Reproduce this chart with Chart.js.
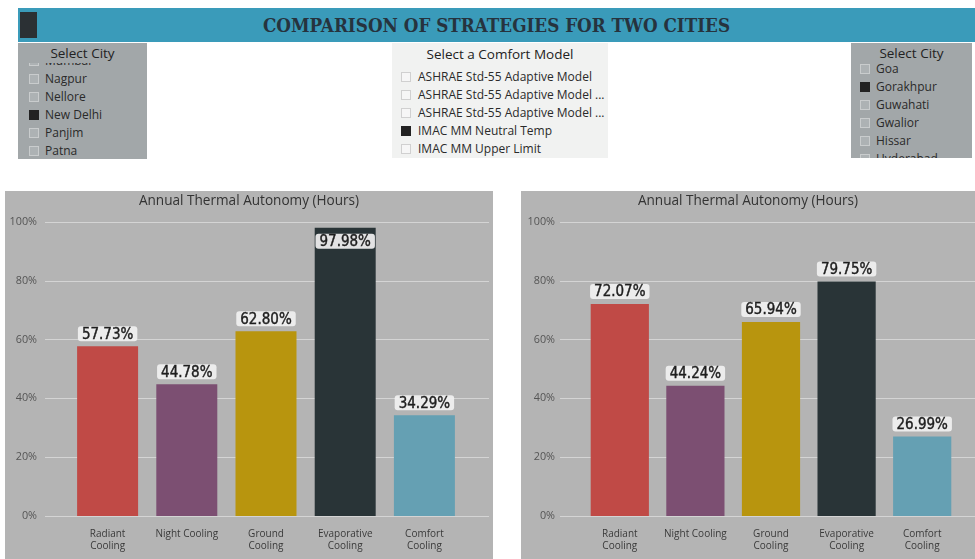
<!DOCTYPE html>
<html>
<head>
<meta charset="utf-8">
<script src="https://cdn.jsdelivr.net/npm/chart.js@4.4.1/dist/chart.umd.min.js"></script>
<style>
  body { margin: 0; background: #fff; width: 975px; height: 559px; overflow: hidden; position: relative; font-family: 'Open Sans', sans-serif; }
  .bar-titulo { position: absolute; left: 18px; top: 8px; width: 957px; height: 34px; background: #3a9bba; }
  .bar-titulo .logo { position: absolute; left: 2px; top: 4px; width: 17px; height: 26px; background: #2b3034; }
  .bar-titulo h1 { margin: 0; position: absolute; left: 0; right: 0; top: 0; line-height: 34px; text-align: center;
    font-family: 'DejaVu Serif Condensed', 'DejaVu Serif', serif; font-weight: bold; font-size: 18.7px; color: #26333e; }
  .slicer { position: absolute; overflow: hidden; }
  .slicer .cab { position: absolute; left: 0; right: 0; text-align: center; font-size: 13.5px; color: #222; }
  .slicer .lista { position: absolute; left: 0; right: 0; overflow: hidden; }
  .slicer .item { height: 18px; line-height: 18px; font-size: 12px; color: #2a2a2a; position: relative; white-space: nowrap; }
  .slicer .item i { position: absolute; top: 4px; width: 8px; height: 8px; border: 1px solid #c9cccd; }
  .slicer .item.sel i { background: #222; border-color: #222; }
  .cinza { background: #a2a7a9; }
  .cinza .item i { background: #adb2b4; }
  .claro { background: #f1f2f1; }
  .claro .item i { background: #f6f6f6; border-color: #d0d0d0; }
  .painel { position: absolute; top: 191px; height: 368px; background: #b4b4b4; }
  canvas { display: block; }
</style>
</head>
<body>
<div class="bar-titulo"><div class="logo"></div><h1>COMPARISON OF STRATEGIES FOR TWO CITIES</h1></div>

<div class="slicer cinza" id="slicerEsq" style="left:18px;top:43px;width:129px;height:116px;"></div>
<div class="slicer claro" id="slicerMeio" style="left:392px;top:43px;width:216px;height:115px;"></div>
<div class="slicer cinza" id="slicerDir" style="left:851px;top:43px;width:121px;height:115px;"></div>

<div class="painel" style="left:5px;width:488px;"><canvas id="graficoCidadeA" width="488" height="368"></canvas></div>
<div class="painel" style="left:521px;width:454px;"><canvas id="graficoCidadeB" width="454" height="368"></canvas></div>

<script>
// dados do grafico
var estrategias = [['Radiant', 'Cooling'], 'Night Cooling', ['Ground', 'Cooling'], ['Evaporative', 'Cooling'], ['Comfort', 'Cooling']];
var autonomiaNovaDelhi = [57.73, 44.78, 62.80, 97.98, 34.29];
var autonomiaGorakhpur = [72.07, 44.24, 65.94, 79.75, 26.99];
var coresBarras = ['#c04a46', '#7c4f72', '#b8950e', '#293437', '#65a0b3'];
var tituloGrafico = 'Annual Thermal Autonomy (Hours)';

// itens dos filtros
var cidadesEsq = ['Mumbai', 'Nagpur', 'Nellore', 'New Delhi', 'Panjim', 'Patna'];
var modelosConforto = ['ASHRAE Std-55 Adaptive Model', 'ASHRAE Std-55 Adaptive Model ...', 'ASHRAE Std-55 Adaptive Model ...', 'IMAC MM Neutral Temp', 'IMAC MM Upper Limit'];
var cidadesDir = ['Goa', 'Gorakhpur', 'Guwahati', 'Gwalior', 'Hissar', 'Hyderabad'];

function montarSlicer(id, titulo, itens, selecionado, cfg) {
	var el = document.getElementById(id);
	var html = '<div class="cab" style="top:' + cfg.cabTop + 'px">' + titulo + '</div>';
	html += '<div class="lista" style="top:' + cfg.listaTop + 'px;bottom:0">';
	html += '<div style="margin-top:' + cfg.desloc + 'px">';
	itens.forEach(function(nome) {
		html += '<div class="item' + (nome === selecionado ? ' sel' : '') + '">' +
			'<i style="left:' + cfg.caixaX + 'px"></i>' +
			'<span style="position:absolute;left:' + cfg.textoX + 'px">' + nome + '</span></div>';
	});
	html += '</div></div>';
	el.innerHTML = html;
}

montarSlicer('slicerEsq', 'Select City', cidadesEsq, 'New Delhi', { cabTop: 1, listaTop: 20, desloc: -11, caixaX: 11, textoX: 27 });
montarSlicer('slicerMeio', 'Select a Comfort Model', modelosConforto, 'IMAC MM Neutral Temp', { cabTop: 2, listaTop: 25, desloc: 0, caixaX: 9, textoX: 26 });
montarSlicer('slicerDir', 'Select City', cidadesDir, 'Gorakhpur', { cabTop: 1, listaTop: 17, desloc: 0, caixaX: 9, textoX: 25 });

// linhas de grade que passam da area das barras
function pluginGrade(xIni, xFim) {
	return {
		id: 'gradeLarga',
		beforeDatasetsDraw: function(chart) {
			var ctx = chart.ctx;
			var escala = chart.scales.y;
			ctx.save();
			ctx.strokeStyle = '#d4d4d4';
			ctx.lineWidth = 1;
			escala.ticks.forEach(function(t) {
				var y = Math.round(escala.getPixelForValue(t.value)) + 0.5;
				ctx.beginPath();
				ctx.moveTo(xIni, y);
				ctx.lineTo(xFim, y);
				ctx.stroke();
			});
			ctx.restore();
		}
	};
}

// rotulos de dados com caixa clara
var pluginRotulos = {
	id: 'rotulos',
	afterDatasetsDraw: function(chart) {
		var ctx = chart.ctx;
		var meta = chart.getDatasetMeta(0);
		var valores = chart.data.datasets[0].data;
		ctx.save();
		ctx.font = '15px "DejaVu Sans Condensed", "DejaVu Sans", sans-serif';
		ctx.textAlign = 'center';
		ctx.textBaseline = 'middle';
		meta.data.forEach(function(barra, i) {
			var texto = valores[i].toFixed(2) + '%';
			var w = ctx.measureText(texto).width + 8;
			var h = 15;
			var topo = barra.y - 5 - h;
			// se nao couber acima, vai para dentro da barra
			if (topo < chart.chartArea.top) {
				topo = barra.y + 6;
			}
			ctx.fillStyle = 'rgba(240,240,240,0.93)';
			ctx.beginPath();
			ctx.roundRect(barra.x - w / 2, topo, w, h, 3);
			ctx.fill();
			ctx.fillStyle = '#1e1e1e';
			ctx.strokeStyle = '#1e1e1e';
			ctx.lineWidth = 0.4;
			ctx.fillText(texto, barra.x, topo + h / 2 + 1);
			ctx.strokeText(texto, barra.x, topo + h / 2 + 1);
		});
		ctx.restore();
	}
};

function construirGrafico(idCanvas, valores, cfg) {
	var ctx = document.getElementById(idCanvas).getContext('2d');

	new Chart(ctx, {
		type: 'bar',
		data: {
			labels: estrategias,
			datasets: [{
				data: valores,
				backgroundColor: coresBarras,
				barPercentage: cfg.larguraBarra,
				categoryPercentage: 1
			}]
		},
		options: {
			responsive: false,
			animation: false,
			layout: { padding: 0 },
			plugins: {
				legend: { display: false },
				tooltip: { enabled: false },
				title: {
					display: true,
					text: tituloGrafico,
					color: '#333',
					font: { family: 'Open Sans', size: 13.6, weight: 'normal' },
					padding: { top: 2, bottom: 12.5 }
				}
			},
			scales: {
				x: {
					grid: { display: false, drawTicks: false },
					border: { display: false },
					ticks: {
						color: '#3a3a3a',
						padding: 12,
						maxRotation: 0,
						autoSkip: false,
						font: { family: 'Open Sans', size: 10 }
					},
					afterFit: function(escala) { escala.height = 43; }
				},
				y: {
					min: 0,
					max: 100,
					grid: { display: false, drawTicks: true, tickLength: cfg.margemEixo - 5 },
					border: { display: false },
					ticks: {
						stepSize: 20,
						color: '#555',
						padding: 5,
						font: { family: 'Open Sans', size: 10.8 },
						callback: function(v) { return v + '%'; }
					},
					afterFit: function(escala) { escala.width = cfg.larguraEixo; }
				},
				// eixo vazio a direita so para recuar a area das barras
				yDir: {
					position: 'right',
					display: true,
					grid: { display: false, drawTicks: false },
					border: { display: false },
					ticks: { display: false },
					afterFit: function(escala) { escala.width = cfg.margemDir; }
				}
			}
		},
		plugins: [pluginGrade(cfg.gradeIni, cfg.gradeFim), pluginRotulos]
	});
}

function iniciar() {
	construirGrafico('graficoCidadeA', autonomiaNovaDelhi, { larguraEixo: 63, margemEixo: 31, margemDir: 29, larguraBarra: 0.77, gradeIni: 40, gradeFim: 484 });
	construirGrafico('graficoCidadeB', autonomiaGorakhpur, { larguraEixo: 61, margemEixo: 27, margemDir: 15, larguraBarra: 0.77, gradeIni: 39, gradeFim: 454 });
}

Promise.all([
	document.fonts.load('13px "Open Sans"'),
	document.fonts.load('15px "DejaVu Sans Condensed"')
]).then(iniciar, iniciar);
</script>
</body>
</html>
